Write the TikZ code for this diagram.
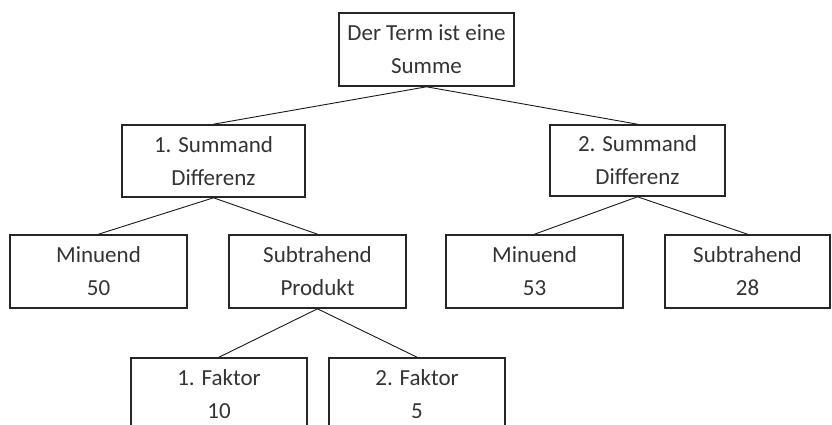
\documentclass[tikz,border=0pt]{standalone}
\usepackage{fontspec}
\setmainfont{Carlito}
\begin{document}
\begin{tikzpicture}[x=1pt,y=-1pt,
  box/.style={draw=black!85, line width=1.6pt, fill=white, inner sep=0pt, align=center,
    text=black!80, font=\fontsize{23}{33}\selectfont, minimum height=73pt},
  link/.style={draw=black!90, line width=0.9pt}]
\useasboundingbox (0,0) rectangle (832,425);
\clip (0,0) rectangle (832,425);
\node[box, minimum width=175pt] (top) at (426.5,49.5) {Der Term ist eine\\Summe};
\node[box, minimum width=183pt, minimum height=72pt] (s1) at (213.5,161) {1. Summand\\Differenz};
\node[box, minimum width=175pt, minimum height=71pt] (s2) at (637.5,160.5) {2. Summand\\Differenz};
\node[box, minimum width=177pt] (m1) at (98.5,271.5) {Minuend\\50};
\node[box, minimum width=177pt] (sub) at (317.5,271.5) {Subtrahend\\Produkt};
\node[box, minimum width=177pt] (m2) at (534.5,271.5) {Minuend\\53};
\node[box, minimum width=165pt] (sub2) at (747.5,271.5) {Subtrahend\\28};
\node[box, minimum width=176pt] (f1) at (219,394.5) {1. Faktor\\10};
\node[box, minimum width=176pt] (f2) at (417,394.5) {2. Faktor\\5};
\draw[link] (top.south) -- (s1.north);
\draw[link] (top.south) -- (s2.north);
\draw[link] (s1.south) -- (m1.north);
\draw[link] (s1.south) -- (sub.north);
\draw[link] (s2.south) -- (m2.north);
\draw[link] (s2.south) -- (sub2.north);
\draw[link] (sub.south) -- (f1.north);
\draw[link] (sub.south) -- (f2.north);
\end{tikzpicture}
\end{document}
